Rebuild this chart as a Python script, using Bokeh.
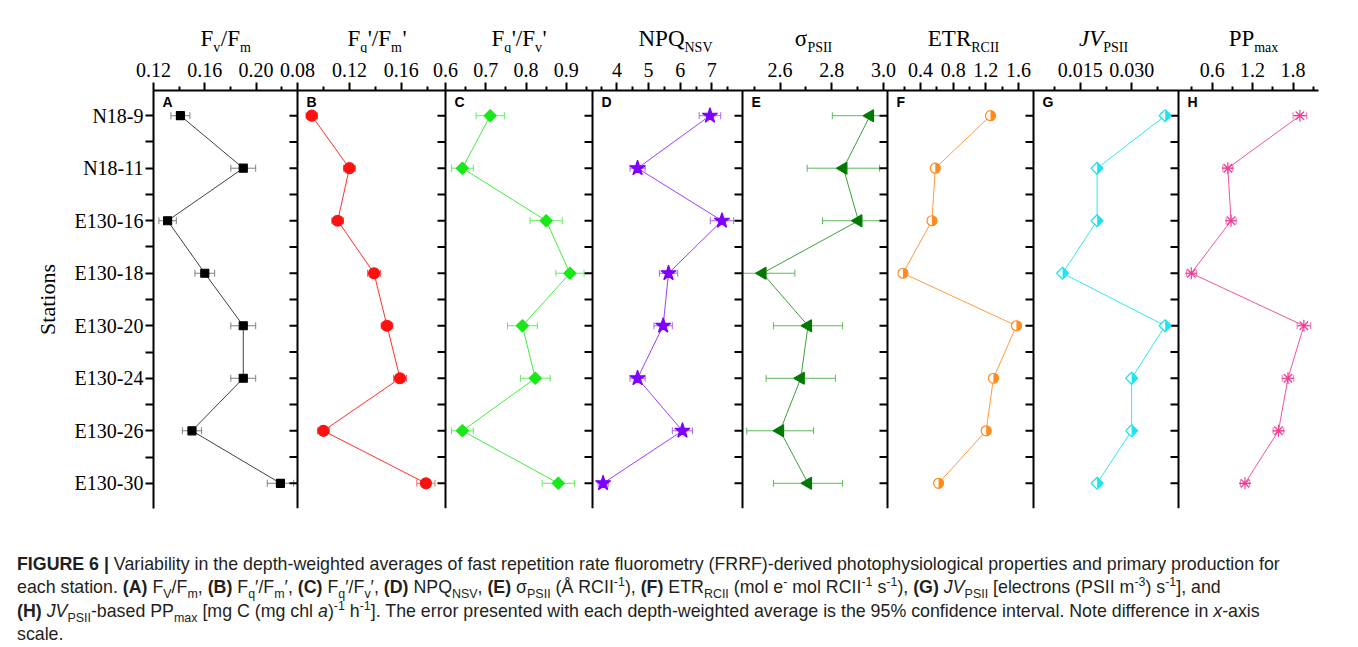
import math
from bokeh.plotting import figure
from bokeh.models import (Range1d, FixedTicker, ColumnDataSource, Whisker, TeeHead, Label, Div, Span)
from bokeh.layouts import column
from bokeh.embed import file_html
from bokeh.resources import INLINE

# ---------------- data ----------------
stations = ["N18-9", "N18-11", "E130-16", "E130-18", "E130-20", "E130-24", "E130-26", "E130-30"]

fv_fm = [0.141, 0.190, 0.131, 0.160, 0.190, 0.190, 0.150, 0.219]
fv_fm_err = [0.0074, 0.0097, 0.0068, 0.0077, 0.0097, 0.0097, 0.0075, 0.0103]
fq_fm = [0.091, 0.120, 0.111, 0.139, 0.149, 0.159, 0.100, 0.179]
fq_fm_err = [0.0044, 0.0045, 0.0045, 0.0050, 0.0045, 0.0050, 0.0045, 0.0070]
fq_fv = [0.711, 0.642, 0.850, 0.909, 0.791, 0.823, 0.642, 0.880]
fq_fv_err = [0.035, 0.027, 0.040, 0.035, 0.037, 0.037, 0.027, 0.040]
npq_nsv = [6.94, 4.65, 7.32, 5.63, 5.46, 4.65, 6.07, 3.56]
npq_nsv_err = [0.34, 0.24, 0.37, 0.29, 0.29, 0.24, 0.32, 0.16]
sigma_psii = [2.948, 2.845, 2.903, 2.532, 2.708, 2.680, 2.600, 2.708]
sigma_psii_err = [0.146, 0.140, 0.139, 0.125, 0.134, 0.134, 0.129, 0.134]
etr_rcii = [1.258, 0.581, 0.540, 0.185, 1.576, 1.294, 1.205, 0.621]
etr_rcii_err = [0.035, 0.030, 0.030, 0.030, 0.040, 0.035, 0.030, 0.030]
jv_psii = [0.0398, 0.0199, 0.0199, 0.0098, 0.0398, 0.0300, 0.0300, 0.0199]
jv_psii_err = [0.0012, 0.0004, 0.0004, 0.0004, 0.0012, 0.0005, 0.0005, 0.0004]
pp_max = [1.902, 0.832, 0.880, 0.290, 1.961, 1.725, 1.584, 1.087]
pp_max_err = [0.100, 0.074, 0.074, 0.074, 0.100, 0.086, 0.079, 0.069]

x_ranges = [(0.12, 0.2323), (0.08, 0.1941), (0.6, 0.965), (3.225, 7.97),
            (2.4545, 3.0155), (-0.005, 1.785), (0.0013, 0.0437), (0.1, 2.178)]
major_ticks = [[0.12, 0.16, 0.20], [0.08, 0.12, 0.16], [0.6, 0.7, 0.8, 0.9], [4, 5, 6, 7],
               [2.6, 2.8, 3.0], [0.4, 0.8, 1.2, 1.6], [0.015, 0.030], [0.6, 1.2, 1.8]]
minor_ticks = [[0.14, 0.18, 0.22], [0.10, 0.14, 0.18], [0.65, 0.75, 0.85, 0.95],
               [3.5, 4.5, 5.5, 6.5, 7.5], [2.5, 2.7, 2.9], [0.2, 0.6, 1.0, 1.4],
               [0.0075, 0.0225, 0.0375], [0.3, 0.9, 1.5, 2.1]]
tick_formats = ["%.2f", "%.2f", "%.1f", "%.0f", "%.1f", "%.1f", "%.3f", "%.1f"]
panel_letters = ["A", "B", "C", "D", "E", "F", "G", "H"]
titles = [
    [("F", "m"), ("v", "s"), ("/F", "m"), ("m", "s")],
    [("F", "m"), ("q", "s"), ("'/F", "m"), ("m", "s"), ("'", "m")],
    [("F", "m"), ("q", "s"), ("'/F", "m"), ("v", "s"), ("'", "m")],
    [("NPQ", "m"), ("NSV", "s")],
    [("σ", "m"), ("PSII", "s")],
    [("ETR", "m"), ("RCII", "s")],
    [("JV", "i"), ("PSII", "s")],
    [("PP", "m"), ("max", "s")],
]
values = [fv_fm, fq_fm, fq_fv, npq_nsv, sigma_psii, etr_rcii, jv_psii, pp_max]
errors = [fv_fm_err, fq_fm_err, fq_fv_err, npq_nsv_err, sigma_psii_err, etr_rcii_err,
          jv_psii_err, pp_max_err]

# ---------------- styles / layout ----------------
W = 1358
TITLE_H = 53
MAIN_H = 469
TOP, BOT = 90, 508          # frame top / bottom in page pixels
Y0, Y1 = -0.48, 7.48
frame_left = [153, 297, 445, 592, 742, 887, 1033, 1178]
frame_right = [297, 445, 592, 742, 887, 1033, 1178, 1318]
FL, FR = frame_left[0], frame_right[-1]
title_center = [225, 376, 518, 675, 813, 963, 1103, 1253]
markers = ["square", "circle", "square", "star", "triangle", "circle", "square", "asterisk"]
marker_sizes = [8, 11, 8.5, 16, 12, 10, 8.5, 12]
marker_angles = [0, 0, math.pi / 4, 0, math.pi / 2, 0, math.pi / 4, 0]
colors = ["#000000", "#FF1010", "#18E818", "#8000FF", "#007A00", "#FF8A1E", "#1FE3EE", "#F03C96"]
line_colors = ["#404040", "#FF3030", "#40EE40", "#9A40FF", "#3E9E3E", "#FF9A40", "#30E6F0", "#F5509F"]
err_colors = ["#808080", "#FF6060", "#60EE60", "#A866FF", "#5DB85D", "#FFAA60", "#40E8F0", "#F570B0"]
half_filled = [False, False, False, False, False, True, True, False]

SERIF = "Liberation Serif"
CW = {'F': 0.556, 'v': 0.5, '/': 0.278, 'm': 0.778, 'q': 0.5, "'": 0.18, 'N': 0.722, 'P': 0.556,
      'Q': 0.722, 'S': 0.556, 'V': 0.722, 'σ': 0.55, 'I': 0.333, 'E': 0.611, 'T': 0.611,
      'R': 0.667, 'C': 0.667, 'a': 0.444, 'x': 0.5, 'J': 0.444}
CW_IT = {'J': 0.444, 'V': 0.611}
MAIN_FS, SUB_FS = 23, 14
MAIN_MID, SUB_MID = 38.0, 46.5   # vertical centres of title text / subscripts (page px)


def text_w(s, kind):
    fs = SUB_FS if kind == "s" else MAIN_FS
    table = CW_IT if kind == "i" else CW
    return sum(table.get(c, 0.5) for c in s) * fs


def px2y(py):
    return Y0 + (py - TOP) * (Y1 - Y0) / (BOT - TOP)


idx = list(range(len(stations)))
ytick_all = idx + [k + 0.5 for k in idx[:-1]]

# ---------------- main figure ----------------
p = figure(width=W, height=MAIN_H, output_backend="svg", toolbar_location=None, title=None,
           x_range=Range1d(FL, FR), y_range=Range1d(Y1, Y0),
           x_axis_location="above", y_axis_location="left",
           min_border_left=FL, min_border_right=W - FR,
           min_border_top=TOP - TITLE_H, min_border_bottom=TITLE_H + MAIN_H - BOT,
           outline_line_color=None)
p.grid.visible = False

scales = []
for i in range(8):
    L, R = frame_left[i], frame_right[i]
    x0, x1 = x_ranges[i]
    s = (x1 - x0) / (R - L)
    scales.append(s)
    p.extra_x_ranges[f"p{i}"] = Range1d(x0 - (L - FL) * s, x1 + (FR - R) * s)


def to_px(i, v):
    return frame_left[i] + (v - x_ranges[i][0]) / scales[i]


major_px, minor_px, overrides = [], [], {}
for i in range(8):
    for tk in major_ticks[i]:
        q = to_px(i, tk)
        major_px.append(q)
        overrides[q] = tick_formats[i] % tk
    for tk in minor_ticks[i]:
        minor_px.append(to_px(i, tk))

xa = p.xaxis[0]
xa.ticker = FixedTicker(ticks=major_px, minor_ticks=minor_px)
xa.major_label_overrides = overrides
xa.major_tick_out = 8
xa.minor_tick_out = 4
xa.major_label_text_font = SERIF
xa.major_label_text_font_size = "20px"
xa.major_label_text_color = "black"
xa.major_label_standoff = 6

ya = p.yaxis[0]
ya.ticker = FixedTicker(ticks=idx, minor_ticks=[k + 0.5 for k in idx[:-1]])
ya.major_tick_out = 8
ya.minor_tick_out = 8
ya.major_label_overrides = {k: s for k, s in enumerate(stations)}
ya.major_label_text_font = SERIF
ya.major_label_text_font_size = "20px"
ya.major_label_text_color = "black"
ya.major_label_standoff = 2
ya.axis_label = "Stations"
ya.axis_label_text_font = SERIF
ya.axis_label_text_font_size = "22px"
ya.axis_label_text_font_style = "normal"
ya.axis_label_text_color = "black"
ya.axis_label_standoff = 12

for ax in (xa, ya):
    ax.axis_line_width = 2
    ax.axis_line_color = "black"
    ax.major_tick_line_width = 2
    ax.minor_tick_line_width = 2
    ax.major_tick_line_color = "black"
    ax.minor_tick_line_color = "black"
    ax.major_tick_in = 0
    ax.minor_tick_in = 0

# panel separators with outward ticks (left edges of panels B..H)
for i in range(1, 8):
    L = frame_left[i]
    p.add_layout(Span(location=L, dimension="height", line_color="black", line_width=2))
    p.segment(x0=[L - 8] * len(ytick_all), x1=[L] * len(ytick_all), y0=ytick_all, y1=ytick_all,
              line_color="black", line_width=2)

for i in range(8):
    L, R = frame_left[i], frame_right[i]
    x0, x1 = x_ranges[i]
    rn = f"p{i}"
    vals, errs = values[i], errors[i]
    lo = [max(v - e, x0) for v, e in zip(vals, errs)]
    hi = [min(v + e, x1) for v, e in zip(vals, errs)]
    src = ColumnDataSource(dict(x=vals, y=idx, lo=lo, hi=hi))

    p.line("x", "y", source=src, line_color=line_colors[i], line_width=1, x_range_name=rn)
    ec = err_colors[i]
    p.add_layout(Whisker(source=src, base="y", lower="lo", upper="hi", dimension="width",
                         line_color=ec, line_width=1, x_range_name=rn,
                         upper_head=TeeHead(size=7, line_color=ec, line_width=1),
                         lower_head=TeeHead(size=7, line_color=ec, line_width=1)))

    if half_filled[i]:
        p.scatter("x", "y", source=src, marker=markers[i], size=marker_sizes[i],
                  angle=marker_angles[i], fill_color="white", line_color=colors[i],
                  line_width=1.2, x_range_name=rn)
        if markers[i] == "circle":
            p.wedge("x", "y", source=src, radius=marker_sizes[i] / 2, radius_units="screen",
                    start_angle=-math.pi / 2, end_angle=math.pi / 2,
                    fill_color=colors[i], line_color=None, x_range_name=rn)
        else:
            half = marker_sizes[i] * math.sqrt(2) / 2
            wd = half * scales[i]
            hd = half * (Y1 - Y0) / (BOT - TOP)
            p.patches(xs=[[v, v + wd, v] for v in vals], ys=[[k - hd, k, k + hd] for k in idx],
                      fill_color=colors[i], line_color=None, x_range_name=rn)
    else:
        p.scatter("x", "y", source=src, marker=markers[i], size=marker_sizes[i],
                  angle=marker_angles[i], fill_color=colors[i], line_color=colors[i],
                  line_width=1.2, x_range_name=rn)

    p.add_layout(Label(x=L + 9, y=px2y(101), text=panel_letters[i],
                       text_font="Liberation Sans", text_font_style="bold",
                       text_font_size="14px", text_color="black",
                       text_align="left", text_baseline="middle"))

# ---------------- title strip (axis titles with subscripts) ----------------
t = figure(width=W, height=TITLE_H, output_backend="svg", toolbar_location=None, title=None,
           x_range=Range1d(FL, FR), y_range=Range1d(TITLE_H, 0),
           x_axis_location=None, y_axis_location=None,
           min_border_left=FL, min_border_right=W - FR, min_border_top=0, min_border_bottom=0,
           outline_line_color=None)
t.grid.visible = False
for i in range(8):
    pieces = titles[i]
    total = sum(text_w(s, k) for s, k in pieces)
    cx = title_center[i] - total / 2
    for s, k in pieces:
        fs = SUB_FS if k == "s" else MAIN_FS
        mid = SUB_MID if k == "s" else MAIN_MID
        t.add_layout(Label(x=cx, y=mid, text=s, text_font=SERIF, text_font_size=f"{fs}px",
                           text_font_style="italic" if k == "i" else "normal",
                           text_color="black", text_align="left", text_baseline="middle"))
        cx += text_w(s, k) + (0.5 if k == "s" else 0)

caption_html = """
<style>
 .cap {font-family:'Liberation Sans', Arial, sans-serif; font-size:17.8px; line-height:23.3px;
       color:#231f20; white-space:nowrap; padding:26px 0 0 12px;}
 .cap sub, .cap sup {font-size:70%; line-height:0;}
</style>
<div class="cap">
<b>FIGURE 6 |</b> Variability in the depth-weighted averages of fast repetition rate fluorometry (FRRF)-derived photophysiological properties and primary production for<br>
each station. <b>(A)</b> F<sub>V</sub>/F<sub>m</sub>, <b>(B)</b> F<sub>q</sub>&prime;/F<sub>m</sub>&prime;, <b>(C)</b> F<sub>q</sub>&prime;/F<sub>v</sub>&prime;, <b>(D)</b> NPQ<sub>NSV</sub>, <b>(E)</b> &sigma;<sub>PSII</sub> (&Aring; RCII<sup>-1</sup>), <b>(F)</b> ETR<sub>RCII</sub> (mol e<sup>-</sup> mol RCII<sup>-1</sup> s<sup>-1</sup>), <b>(G)</b> <i>JV</i><sub>PSII</sub> [electrons (PSII m<sup>-3</sup>) s<sup>-1</sup>], and<br>
<b>(H)</b> <i>JV</i><sub>PSII</sub>-based PP<sub>max</sub> [mg C (mg chl <i>a</i>)<sup>-1</sup> h<sup>-1</sup>]. The error presented with each depth-weighted average is the 95% confidence interval. Note difference in <i>x</i>-axis<br>
scale.
</div>
"""
caption = Div(text=caption_html, width=W, height=125)

root = column(t, p, caption)
open("out.html", "w").write(file_html(root, INLINE))
